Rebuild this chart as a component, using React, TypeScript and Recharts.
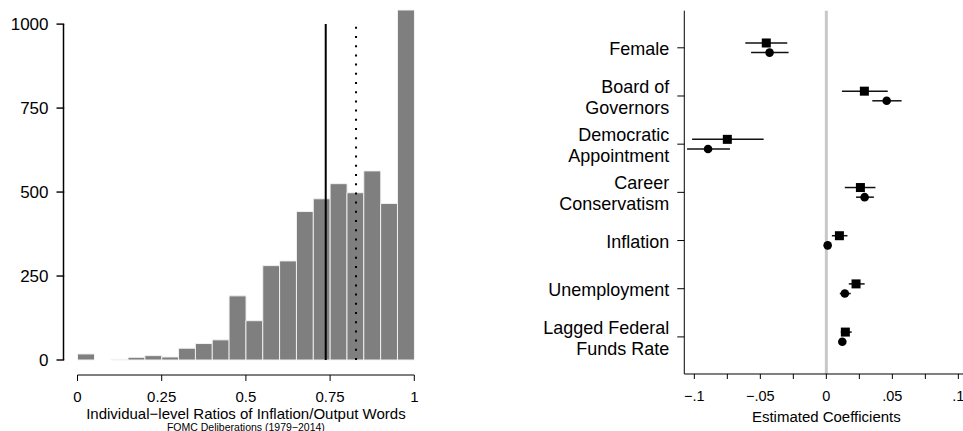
import React from "react";
import {
  Bar,
  BarChart,
  ErrorBar,
  Label,
  ReferenceLine,
  Scatter,
  ScatterChart,
  XAxis,
  YAxis,
} from "recharts";

const FONT = '"Liberation Sans", Arial, Helvetica, sans-serif';

// left panel: histogram of ratios, bins of width 0.05
const binStarts = [
  0, 0.05, 0.1, 0.15, 0.2, 0.25, 0.3, 0.35, 0.4, 0.45,
  0.5, 0.55, 0.6, 0.65, 0.7, 0.75, 0.8, 0.85, 0.9, 0.95,
];
const binCounts = [
  18, 0, 1, 8, 13, 9, 35, 49, 60, 191,
  117, 281, 295, 442, 480, 525, 498, 563, 466, 1042,
];
const ratioTicks = [0, 0.25, 0.5, 0.75, 1];
const countTicks = [0, 250, 500, 750, 1000];
const meanRatio = 0.737;
const medianRatio = 0.827;

// right panel: coefficient plot
const varLabels = [
  "Female",
  "Board of\nGovernors",
  "Democratic\nAppointment",
  "Career\nConservatism",
  "Inflation",
  "Unemployment",
  "Lagged Federal\nFunds Rate",
];
const sqCoef = [-0.0455, 0.0288, -0.075, 0.0258, 0.0099, 0.0225, 0.0144];
const sqLo = [-0.0614, 0.0118, -0.1017, 0.014, 0.0042, 0.017, 0.0109];
const sqHi = [-0.0296, 0.0465, -0.0475, 0.0372, 0.016, 0.029, 0.0192];
const dotCoef = [-0.043, 0.0457, -0.0896, 0.029, 0.001, 0.014, 0.0121];
const dotLo = [-0.057, 0.0348, -0.1055, 0.0225, 0.0004, 0.0102, 0.0106];
const dotHi = [-0.0286, 0.057, -0.073, 0.036, 0.0016, 0.0185, 0.0136];
const coefTicks = [-0.1, -0.075, -0.05, -0.025, 0, 0.025, 0.05, 0.075, 0.1];
const coefTickLabels = ["\u2212.1", "", "\u2212.05", "", "0", "", ".05", "", ".1"];

const histData = binStarts.map((b, i) => ({ bin: b, count: binCounts[i] }));

const squareData = varLabels.map((_, i) => ({
  x: sqCoef[i],
  y: i + 1 - 0.1,
  err: [sqCoef[i] - sqLo[i], sqHi[i] - sqCoef[i]],
}));
const dotData = varLabels.map((_, i) => ({
  x: dotCoef[i],
  y: i + 1 + 0.1,
  err: [dotCoef[i] - dotLo[i], dotHi[i] - dotCoef[i]],
}));

// R-style axis: pulled 14px away from the plot region
const AXIS_GAP = 14;
const axisGapInRatio = -AXIS_GAP / 336.8;

const CountTick = (props: any) => {
  const { x, y, payload } = props;
  const ax = x - AXIS_GAP;
  return (
    <g>
      <rect x={ax - 7} y={y - 0.7} width={7.7} height={1.4} fill="#000" />
      <text x={ax - 15} y={y} dy="0.36em" textAnchor="end" fontSize={17} fontFamily={FONT} fill="#000">
        {payload.value}
      </text>
    </g>
  );
};

const VarTick = (props: any) => {
  const { x, y, payload } = props;
  const lines = varLabels[payload.value - 1].split("\n");
  return (
    <text x={x} y={y} textAnchor="end" fontSize={18} fontFamily={FONT} fill="#000">
      {lines.map((l, i) => (
        <tspan key={i} x={x} y={y + (i - (lines.length - 1) / 2) * 21} dy="0.4em">
          {l}
        </tspan>
      ))}
    </text>
  );
};

const squareMark = (p: any) => (
  <rect x={p.cx - 4.5} y={p.cy - 4.5} width={9} height={9} fill="#000" />
);
const dotMark = (p: any) => <circle cx={p.cx} cy={p.cy} r={4.3} fill="#000" />;

const axisText = { fill: "#000", fontFamily: FONT };

export default function App() {
  return (
    <div
      style={{
        position: "absolute",
        left: 0,
        top: 0,
        width: 963,
        height: 431,
        overflow: "hidden",
        background: "#fff",
      }}
    >
      <div style={{ position: "absolute", left: 0, top: 0 }}>
        <BarChart
          width={430}
          height={431}
          data={histData}
          margin={{ top: 10, right: 15.7, bottom: 0, left: 0 }}
          barCategoryGap={0}
        >
          <XAxis xAxisId="bin" dataKey="bin" height={15} tick={false} tickLine={false} axisLine={false} />
          <XAxis
            xAxisId="num"
            dataKey="bin"
            type="number"
            domain={[0, 1]}
            allowDataOverflow
            ticks={ratioTicks}
            height={56}
            tickSize={6}
            tickMargin={10}
            stroke="#000"
            tick={{ ...axisText, fontSize: 15 }}
          >
            <Label
              value={"Individual\u2212level Ratios of Inflation/Output Words"}
              position="insideBottom"
              offset={12.5}
              fontSize={15}
              fontFamily={FONT}
              fill="#000"
            />
            <Label
              value={"FOMC Deliberations (1979\u22122014)"}
              position="insideBottom"
              offset={0.5}
              fontSize={10.5}
              fontFamily={FONT}
              fill="#000"
            />
          </XAxis>
          <YAxis
            yAxisId="count"
            type="number"
            domain={[0, 1042]}
            ticks={countTicks}
            width={77.5}
            tickSize={0}
            tickMargin={0}
            tickLine={false}
            axisLine={false}
            tick={<CountTick />}
          />
          <Bar
            xAxisId="bin"
            yAxisId="count"
            dataKey="count"
            fill="#7f7f7f"
            stroke="#f2f2f2"
            strokeWidth={1}
            isAnimationActive={false}
          />
          <ReferenceLine
            xAxisId="num"
            yAxisId="count"
            ifOverflow="visible"
            segment={[
              { x: axisGapInRatio, y: 0 },
              { x: axisGapInRatio, y: 1000 },
            ]}
            stroke="#000"
            strokeWidth={1.5}
          />
          <ReferenceLine
            xAxisId="num"
            yAxisId="count"
            segment={[
              { x: meanRatio, y: 0 },
              { x: meanRatio, y: 1000 },
            ]}
            stroke="#000"
            strokeWidth={2}
          />
          <ReferenceLine
            xAxisId="num"
            yAxisId="count"
            segment={[
              { x: medianRatio, y: 0 },
              { x: medianRatio, y: 1000 },
            ]}
            stroke="#000"
            strokeWidth={2}
            strokeDasharray="2 7.2"
          />
        </BarChart>
      </div>
      <div style={{ position: "absolute", left: 440, top: 0 }}>
        <ScatterChart width={528.4} height={431} margin={{ top: 10.7, right: 0, bottom: 0, left: 0 }}>
          <XAxis
            xAxisId="top"
            orientation="top"
            type="number"
            domain={[-0.1076, 0.1076]}
            height={0}
            tick={false}
            tickLine={false}
            axisLine={{ stroke: "#000" }}
          />
          <XAxis
            xAxisId="coef"
            dataKey="x"
            type="number"
            domain={[-0.1076, 0.1076]}
            ticks={coefTicks}
            tickFormatter={(_v: number, i: number) => coefTickLabels[i]}
            height={57}
            tickSize={5}
            tickMargin={12}
            stroke="#000"
            tick={{ ...axisText, fontSize: 14.5 }}
          >
            <Label
              value="Estimated Coefficients"
              position="insideBottom"
              offset={9}
              fontSize={15}
              fontFamily={FONT}
              fill="#000"
            />
          </XAxis>
          <YAxis
            yAxisId="var"
            dataKey="y"
            type="number"
            domain={[0.23, 7.77]}
            reversed
            ticks={[1, 2, 3, 4, 5, 6, 7]}
            width={244.3}
            tickSize={7}
            tickMargin={8}
            stroke="#000"
            tick={<VarTick />}
          />
          <ReferenceLine xAxisId="coef" yAxisId="var" x={0} stroke="#c8c8c8" strokeWidth={3} />
          <Scatter
            xAxisId="coef"
            yAxisId="var"
            data={squareData}
            shape={squareMark}
            isAnimationActive={false}
          >
            <ErrorBar dataKey="err" direction="x" width={0} stroke="#111" strokeWidth={1.5} />
          </Scatter>
          <Scatter
            xAxisId="coef"
            yAxisId="var"
            data={dotData}
            shape={dotMark}
            isAnimationActive={false}
          >
            <ErrorBar dataKey="err" direction="x" width={0} stroke="#111" strokeWidth={1.5} />
          </Scatter>
        </ScatterChart>
      </div>
    </div>
  );
}
